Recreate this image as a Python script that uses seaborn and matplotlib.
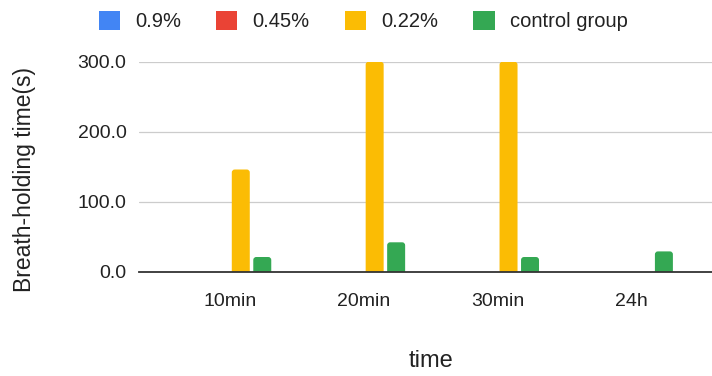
import matplotlib
matplotlib.use("Agg")
import matplotlib.pyplot as plt
from matplotlib.patches import FancyBboxPatch
import seaborn as sns
import pandas as pd

# Breath-holding time (s) per concentration group at each time point
times = ["10min", "20min", "30min", "24h"]
groups = ["0.9%", "0.45%", "0.22%", "control group"]
vals_09 = [0, 0, 0, 0]
vals_045 = [0, 0, 0, 0]
vals_022 = [146, 300, 300, 0]
vals_control = [21, 42, 21, 29]
colors = ["#4285F4", "#EA4335", "#FBBC04", "#34A853"]
yticks = [0, 100, 200, 300]

series = [vals_09, vals_045, vals_022, vals_control]
df = pd.DataFrame(
    [(t, g, v) for g, vals in zip(groups, series) for t, v in zip(times, vals)],
    columns=["time", "group", "value"],
)

sns.set_theme(style="white")
plt.rcParams["font.family"] = ["Liberation Sans", "DejaVu Sans"]

fig = plt.figure(figsize=(7.12, 3.76), dpi=100)
ax = fig.add_axes([139 / 712, 104.3 / 376, 573 / 712, 210 / 376])

sns.barplot(
    data=df, x="time", y="value", hue="group",
    order=times, hue_order=groups, palette=colors,
    width=0.642, gap=0.163, linewidth=0, saturation=1,
    legend=False, ax=ax, zorder=3,
)

xlim = (-0.68, 3.60)
ylim = (0, 300)
ax.set_xlim(*xlim)
ax.set_ylim(*ylim)

# Give each bar slightly rounded top corners; the bottom corners sit below
# the baseline and are clipped by the axes.
bbox = ax.get_position()
fig_w, fig_h = fig.get_size_inches() * fig.dpi
x_per_px = (xlim[1] - xlim[0]) / (bbox.width * fig_w)
y_per_px = (ylim[1] - ylim[0]) / (bbox.height * fig_h)
radius_px = 3
for bar in list(ax.patches):
    h = bar.get_height()
    if h <= 0:
        bar.remove()
        continue
    x0, w = bar.get_x(), bar.get_width()
    drop = radius_px * y_per_px
    rounded = FancyBboxPatch(
        (x0, -drop), w, h + drop,
        boxstyle=f"round,pad=0,rounding_size={radius_px * x_per_px}",
        mutation_aspect=y_per_px / x_per_px,
        facecolor=bar.get_facecolor(), edgecolor="none",
        zorder=3, clip_on=True,
    )
    bar.remove()
    ax.add_patch(rounded)

ax.set_yticks(yticks)
ax.set_yticklabels([f"{v:.1f}" for v in yticks])
ax.grid(axis="y", color="#cccccc", linewidth=0.9, zorder=0)
ax.grid(axis="x", visible=False)
for side in ["top", "right", "left"]:
    ax.spines[side].set_visible(False)
ax.spines["bottom"].set_color("#333333")
ax.spines["bottom"].set_linewidth(1.3)
ax.spines["bottom"].set_zorder(4)

ax.tick_params(axis="y", length=0, pad=9, labelsize=14, labelcolor="#222222")
ax.tick_params(axis="x", length=0, pad=15, labelsize=14, labelcolor="#222222")

ax.set_xlabel("time", fontsize=17, color="#222222")
ax.set_ylabel("Breath-holding time(s)", fontsize=16.5, color="#222222")
ax.xaxis.set_label_coords(0.51, -0.375)
ax.yaxis.set_label_coords(-0.18, 0.437)

handles = [plt.Rectangle((0, 0), 1, 1, facecolor=c, edgecolor="none") for c in colors]
fig.legend(
    handles, groups, loc="center", bbox_to_anchor=(0.51, 0.944),
    ncol=4, frameon=False, fontsize=14.5,
    handlelength=1.05, handleheight=1.05, handletextpad=0.75, columnspacing=1.75,
    labelcolor="#222222",
)

fig.savefig("out.png", dpi=100)
